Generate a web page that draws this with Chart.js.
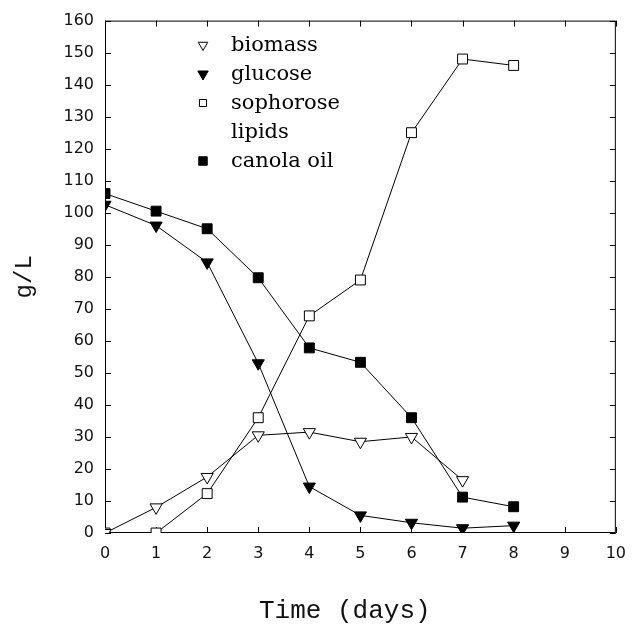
<!DOCTYPE html>
<html>
<head>
<meta charset="utf-8">
<script src="https://cdn.jsdelivr.net/npm/chart.js@4.4.0/dist/chart.umd.min.js"></script>
<style>
  body { margin: 0; background: #fff; }
  #wrap { width: 637px; height: 624px; }
</style>
</head>
<body>
<div id="wrap"><canvas id="fermChart"></canvas></div>
<script>
const days = [0, 1, 2, 3, 4, 5, 6, 7, 8];
const biomass = [0, 8, 17.5, 30.5, 31.5, 28.5, 30, 16.5];
const glucose = [102.5, 96, 84.5, 53, 14.5, 5.5, 3.2, 1.5, 2.3];
const sophorose = [0, 0, 12.3, 36, 67.8, 79, 125, 148, 146];
const canola = [106, 100.5, 95, 79.7, 57.8, 53.3, 36, 11.2, 8.2];
const xTicks = [0, 1, 2, 3, 4, 5, 6, 7, 8, 9, 10];
const yTicks = [0, 10, 20, 30, 40, 50, 60, 70, 80, 90, 100, 110, 120, 130, 140, 150, 160];
const legendLabels = [['biomass'], ['glucose'], ['sophorose', 'lipids'], ['canola oil']];

function toPoints(values) {
  return values.map((v, i) => ({ x: days[i], y: v }));
}

function series(label, values, style, rotation, filled) {
  return {
    label: label,
    data: toPoints(values),
    borderColor: '#000',
    borderWidth: 1,
    pointStyle: style,
    pointRotation: rotation,
    pointRadius: 7,
    pointBorderWidth: 1,
    pointBorderColor: '#000',
    pointBackgroundColor: filled ? '#000' : '#fff',
    fill: false,
    tension: 0
  };
}

// box around the plot with inward tick marks on all four sides
const frameTicks = {
  id: 'frameTicks',
  beforeDatasetsDraw(chart) {
    const { ctx, chartArea, scales } = chart;
    const { left, right, top, bottom } = chartArea;
    ctx.save();
    ctx.strokeStyle = '#000';
    ctx.lineWidth = 1;
    ctx.strokeRect(left + 0.5, top + 0.5, right - left - 1, bottom - top - 1);
    ctx.beginPath();
    xTicks.forEach(v => {
      const px = Math.round(scales.x.getPixelForValue(v)) + 0.5;
      ctx.moveTo(px, bottom); ctx.lineTo(px, bottom - 6);
      ctx.moveTo(px, top); ctx.lineTo(px, top + 6);
    });
    yTicks.forEach(v => {
      const py = Math.round(scales.y.getPixelForValue(v)) + 0.5;
      ctx.moveTo(left, py); ctx.lineTo(left + 6, py);
      ctx.moveTo(right, py); ctx.lineTo(right - 6, py);
    });
    ctx.stroke();
    ctx.restore();
  }
};

// legend drawn inside the plot, symbols taken from the datasets
const insideLegend = {
  id: 'insideLegend',
  afterDraw(chart) {
    const { ctx } = chart;
    const sizes = [5.5, 6, 5, 6];
    let baseline = 51;
    ctx.save();
    ctx.font = '21px "DejaVu Serif"';
    ctx.fillStyle = '#000';
    ctx.textBaseline = 'alphabetic';
    ctx.textAlign = 'left';
    chart.data.datasets.forEach((ds, i) => {
      ctx.fillStyle = ds.pointBackgroundColor;
      ctx.strokeStyle = '#000';
      ctx.lineWidth = 1;
      Chart.helpers.drawPoint(ctx, {
        pointStyle: ds.pointStyle,
        rotation: ds.pointRotation,
        radius: sizes[i],
        borderWidth: 1
      }, 203, baseline - 6);
      ctx.fillStyle = '#000';
      legendLabels[i].forEach(line => {
        ctx.fillText(line, 231, baseline);
        baseline += 29;
      });
    });
    ctx.restore();
  }
};

const ctx = document.getElementById('fermChart').getContext('2d');
new Chart(ctx, {
  type: 'line',
  data: {
    datasets: [
      series('biomass', biomass, 'triangle', 180, false),
      series('glucose', glucose, 'triangle', 180, true),
      series('sophorose lipids', sophorose, 'rect', 0, false),
      series('canola oil', canola, 'rect', 0, true)
    ]
  },
  options: {
    responsive: true,
    maintainAspectRatio: false,
    animation: false,
    layout: { padding: { top: 19, right: 12, left: 0, bottom: 0 } },
    plugins: {
      legend: { display: false },
      tooltip: { enabled: false }
    },
    scales: {
      x: {
        type: 'linear',
        min: 0,
        max: 10,
        afterFit: scale => { scale.height = 91; },
        afterBuildTicks: scale => { scale.ticks = xTicks.map(v => ({ value: v })); },
        grid: { drawOnChartArea: false, drawTicks: false },
        border: { display: false },
        ticks: { padding: 11, color: '#111', font: { family: 'DejaVu Sans', size: 16 } },
        title: {
          display: true,
          text: 'Time (days)  ',
          color: '#111',
          padding: { top: 0, bottom: 0 },
          font: { family: 'Liberation Mono', size: 26, lineHeight: 1 }
        }
      },
      y: {
        min: 0,
        max: 160,
        afterFit: scale => { scale.width = 105; },
        afterBuildTicks: scale => { scale.ticks = yTicks.map(v => ({ value: v })); },
        grid: { drawOnChartArea: false, drawTicks: false },
        border: { display: false },
        ticks: { padding: 11, color: '#111', font: { family: 'DejaVu Sans', size: 16 } },
        title: {
          display: true,
          text: 'g/L',
          color: '#111',
          padding: { top: 10, bottom: 0 },
          font: { family: 'Liberation Mono', size: 24 }
        }
      }
    }
  },
  plugins: [frameTicks, insideLegend]
});
</script>
</body>
</html>
